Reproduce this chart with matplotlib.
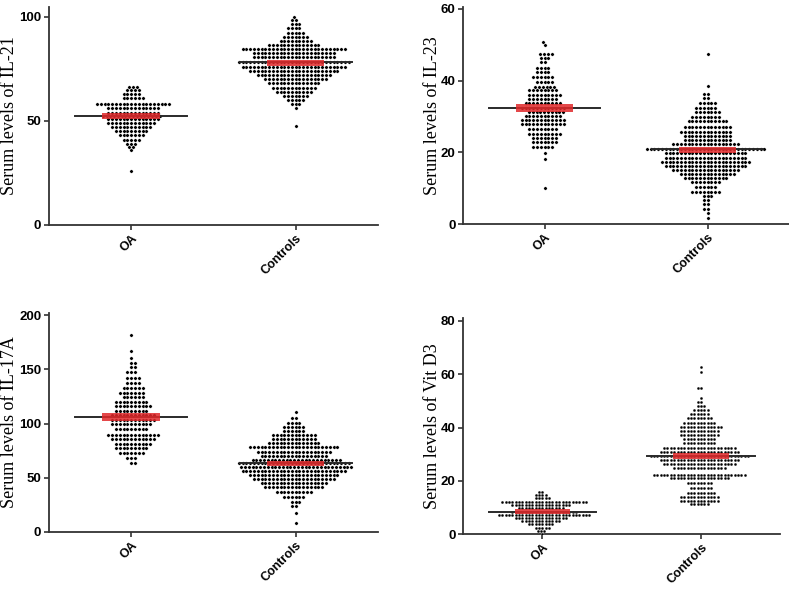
import numpy as np
import pandas as pd
import matplotlib
matplotlib.use("Agg")
import matplotlib.pyplot as plt
import seaborn as sns

groups = ["OA", "Controls"]

# each swarm is given as rows of dots: the value of the row and how many dots sit in it
# IL-21
il21_oa_vals = [66.5, 65, 63, 61, 58, 56, 54, 52.5, 51, 49, 47, 45, 43, 41, 39, 37.5, 36, 26]
il21_oa_counts = [3, 4, 5, 6, 20, 14, 14, 16, 14, 13, 11, 9, 7, 5, 3, 2, 1, 1]
il21_ct_vals = [100, 98.5, 96.6, 94.6, 92.5, 90.5, 88.6, 86.5, 84.6, 82.6, 80.7, 78.2, 76, 74, 72,
                70, 68, 66, 64, 62, 60, 58, 56, 47.6]
il21_ct_counts = [1, 2, 3, 4, 5, 7, 9, 14, 28, 22, 22, 30, 28, 24, 20, 17, 14, 12, 10, 7, 5, 3, 1, 1]

# IL-23
il23_oa_vals = [50.9, 50.0, 47.4, 46.4, 45.1, 43.4, 42.3, 41.1, 39.7, 38.3, 37.4, 36.0, 34.9, 33.7,
                32.5, 31.2, 30.2, 29.0, 27.8, 26.5, 25.0, 23.9, 22.8, 21.6, 19.7, 18.1, 10.0]
il23_oa_counts = [1, 1, 4, 3, 2, 4, 4, 6, 5, 6, 8, 9, 8, 10, 12, 10, 10, 12, 12, 8, 9, 7, 7, 6, 1, 1, 1]
il23_ct_vals = [47.4, 38.6, 36.2, 35.1, 33.7, 32.5, 31.3, 29.9, 28.6, 27.2, 25.8, 24.6, 23.4, 22.2,
                20.8, 19.7, 18.5, 17.4, 16.3, 15.1, 14.0, 12.8, 11.6, 10.4, 9.0, 7.9, 6.7, 5.5, 4.2,
                3.0, 1.6]
il23_ct_counts = [1, 1, 2, 2, 5, 6, 7, 8, 11, 13, 14, 13, 13, 18, 32, 22, 22, 24, 22, 18, 15, 12, 8,
                  6, 8, 3, 2, 2, 2, 1, 1]

# IL-17A
il17_oa_vals = [181.6, 167, 160, 156, 151.8, 147.8, 141.6, 137, 132.4, 128.4, 124.7, 120, 116, 111.8,
                107.8, 103.2, 99.3, 94.7, 89.4, 85.4, 81.1, 77.1, 73.1, 67.9, 63.9]
il17_oa_counts = [1, 1, 1, 2, 2, 3, 4, 4, 6, 7, 6, 9, 10, 9, 12, 12, 11, 9, 14, 12, 10, 9, 7, 3, 2]
il17_ct_vals = [110.9, 104.8, 100.7, 97.1, 93.4, 89.4, 85.4, 81.7, 78.0, 74.0, 70.0, 66.4, 63.3, 59.6,
                56.5, 52.5, 48.5, 44.9, 41.2, 37.1, 32.5, 27.9, 24.0, 17.2, 8.0]
il17_ct_counts = [1, 2, 4, 6, 6, 12, 12, 14, 24, 20, 18, 24, 30, 30, 28, 24, 22, 18, 16, 10, 6, 3, 2,
                  1, 1]

# Vit D3
vitd_oa_vals = [15.9, 14.6, 13.4, 12.1, 10.9, 9.7, 8.4, 7.2, 6.0, 4.8, 3.6, 2.4, 1.2, 0.1]
vitd_oa_counts = [2, 4, 5, 26, 18, 14, 20, 28, 16, 12, 8, 5, 3, 1]
vitd_ct_vals = [62.8, 61.0, 54.7, 51.0, 49.7, 48.1, 46.6, 45.1, 43.4, 41.8, 40.3, 38.8, 37.2, 35.6,
                34.1, 32.2, 30.9, 29.3, 27.8, 26.3, 24.7, 22.2, 20.9, 19.3, 17.2, 15.3, 13.8, 12.5,
                11.3]
vitd_ct_counts = [1, 1, 2, 1, 2, 3, 5, 6, 8, 10, 13, 12, 12, 10, 10, 22, 24, 30, 24, 22, 16, 28, 18,
                  8, 7, 9, 12, 12, 6]

# median (black line) and the red bar (low, high) for OA / Controls
il21_median = [52.5, 78.2]
il21_bar = [(51.0, 54.0), (76.6, 79.3)]
il23_median = [32.5, 20.8]
il23_bar = [(31.3, 33.4), (19.9, 21.6)]
il17_median = [106.3, 63.3]
il17_bar = [(102.6, 110.0), (60.8, 65.4)]
vitd_median = [8.4, 29.4]
vitd_bar = [(7.4, 9.4), (28.1, 30.5)]

# label, axes rect, y top, y ticks, dot size, ylabel x position, data...
panels = [
    ("Serum levels of IL-21", [0.062, 0.622, 0.417, 0.367], 105, [0, 50, 100], 2.4, -0.094,
     il21_oa_vals, il21_oa_counts, il21_ct_vals, il21_ct_counts, il21_median, il21_bar),
    ("Serum levels of IL-23", [0.587, 0.6235, 0.413, 0.3645], 60.5, [0, 20, 40, 60], 2.4, -0.068,
     il23_oa_vals, il23_oa_counts, il23_ct_vals, il23_ct_counts, il23_median, il23_bar),
    ("Serum levels of IL-17A", [0.062, 0.106, 0.417, 0.368], 202, [0, 50, 100, 150, 200], 2.4, -0.094,
     il17_oa_vals, il17_oa_counts, il17_ct_vals, il17_ct_counts, il17_median, il17_bar),
    ("Serum levels of Vit D3", [0.587, 0.1025, 0.402, 0.3625], 81, [0, 20, 40, 60, 80], 2.1, -0.07,
     vitd_oa_vals, vitd_oa_counts, vitd_ct_vals, vitd_ct_counts, vitd_median, vitd_bar),
]

fig = plt.figure(figsize=(7.89, 5.95), dpi=100)

for (ylab, pos, ytop, yticks, dot, labx, oa_v, oa_c, ct_v, ct_c, med, bar) in panels:
    ax = fig.add_axes(pos)
    ax.set_ylim(0, ytop)
    ax.set_xlim(-0.5, 1.5)
    df = pd.DataFrame({
        "group": ["OA"] * sum(oa_c) + ["Controls"] * sum(ct_c),
        "value": np.concatenate([np.repeat(oa_v, oa_c), np.repeat(ct_v, ct_c)]),
    })
    sns.swarmplot(data=df, x="group", y="value", order=groups, ax=ax, color="black",
                  size=dot, linewidth=0.2, edgecolor="white", warn_thresh=1)
    ax.set_ylim(0, ytop)
    ax.set_xlim(-0.5, 1.5)
    for i in range(2):
        ax.plot([i - 0.34, i + 0.34], [med[i], med[i]], color="#2a2a2a", lw=1.4, zorder=3)
        lo, hi = bar[i]
        ax.bar(i, hi - lo, bottom=lo, width=0.35, color="#e0282a", alpha=0.85, zorder=4)
    for s in ["top", "right"]:
        ax.spines[s].set_visible(False)
    for s in ["left", "bottom"]:
        ax.spines[s].set_linewidth(1.3)
        ax.spines[s].set_color("#333333")
    ax.set_yticks(yticks)
    ax.set_xticks([0, 1])
    ax.set_xticklabels(groups, rotation=45, ha="right", rotation_mode="anchor",
                       fontfamily="Liberation Sans", fontweight="bold", fontsize=9)
    for lab in ax.get_yticklabels():
        lab.set_fontfamily("Liberation Sans")
        lab.set_fontweight("bold")
        lab.set_fontsize(9.5)
    ax.tick_params(axis="both", length=3.5, width=1.2, color="#333333", pad=2)
    ax.set_xlabel("")
    ax.set_ylabel(ylab, fontfamily="Liberation Serif", fontsize=13)
    ax.yaxis.set_label_coords(labx, 0.5)

fig.savefig("out.png", dpi=100)
